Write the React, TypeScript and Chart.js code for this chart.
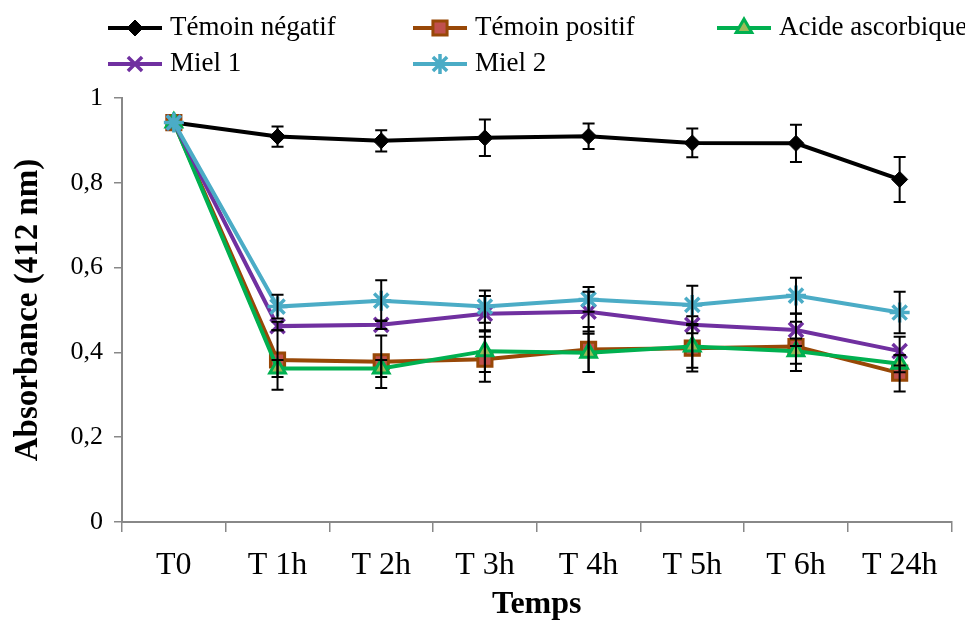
import React, { useEffect, useRef } from 'react';
import { Chart, registerables } from 'chart.js';
import { drawPoint } from 'chart.js/helpers';

Chart.register(...registerables);

const categories = ['T0', 'T 1h', 'T 2h', 'T 3h', 'T 4h', 'T 5h', 'T 6h', 'T 24h'];
const seriesNames = ['Témoin négatif', 'Témoin positif', 'Acide ascorbique', 'Miel 1', 'Miel 2'];

const temoinNegatif = [0.942, 0.909, 0.899, 0.906, 0.910, 0.894, 0.893, 0.808];
const temoinNegatifErr = [0, 0.024, 0.025, 0.043, 0.03, 0.034, 0.044, 0.053];
const temoinPositif = [0.942, 0.382, 0.378, 0.384, 0.407, 0.41, 0.414, 0.351];
const temoinPositifErr = [0, 0.07, 0.062, 0.053, 0.053, 0.055, 0.058, 0.043];
const acideAscorbique = [0.942, 0.362, 0.362, 0.403, 0.399, 0.414, 0.403, 0.373];
const acideAscorbiqueErr = [0, 0.02, 0.02, 0.049, 0.045, 0.05, 0.03, 0.02];
const miel1 = [0.942, 0.462, 0.465, 0.491, 0.496, 0.465, 0.453, 0.403];
const miel1Err = [0, 0.01, 0.01, 0.042, 0.047, 0.02, 0.038, 0.034];
const miel2 = [0.942, 0.508, 0.522, 0.508, 0.525, 0.512, 0.534, 0.494];
const miel2Err = [0, 0.028, 0.048, 0.038, 0.029, 0.045, 0.042, 0.049];

const yTicks = [0, 0.2, 0.4, 0.6, 0.8, 1];
const xTitle = 'Temps';
const yTitle = 'Absorbance (412 nm)';

const FONT = "'Liberation Serif', 'DejaVu Serif', serif";

export default function App() {
  const ref = useRef<HTMLCanvasElement>(null);

  useEffect(() => {
    const values = [temoinNegatif, temoinPositif, acideAscorbique, miel1, miel2];
    const errors = [temoinNegatifErr, temoinPositifErr, acideAscorbiqueErr, miel1Err, miel2Err];
    const styles = [
      { line: '#000000', fill: '#000000', stroke: '#000000', pointStyle: 'rectRot', radius: 8, bw: 1, order: 5 },
      { line: '#984807', fill: '#C0504D', stroke: '#984807', pointStyle: 'rect', radius: 10, bw: 3, order: 4 },
      { line: '#00B050', fill: '#9BBB59', stroke: '#00B050', pointStyle: 'triangle', radius: 9, bw: 3, order: 3 },
      { line: '#7030A0', fill: '#7030A0', stroke: '#7030A0', pointStyle: 'crossRot', radius: 10, bw: 3.5, order: 2 },
      { line: '#4BACC6', fill: '#4BACC6', stroke: '#4BACC6', pointStyle: 'star', radius: 10, bw: 3.5, order: 1 },
    ];

    const errorBars = {
      id: 'errorBars',
      afterDatasetsDraw(chart: any) {
        const ctx = chart.ctx;
        const yScale = chart.scales.y;
        ctx.save();
        ctx.strokeStyle = '#000';
        ctx.lineWidth = 2;
        values.forEach((_, i) => {
          const meta = chart.getDatasetMeta(i);
          meta.data.forEach((pt: any, j: number) => {
            const e = errors[i][j];
            if (!e) return;
            const v = values[i][j];
            const x = pt.x;
            const y1 = yScale.getPixelForValue(v + e);
            const y2 = yScale.getPixelForValue(v - e);
            ctx.beginPath();
            ctx.moveTo(x, y1);
            ctx.lineTo(x, y2);
            ctx.moveTo(x - 6, y1);
            ctx.lineTo(x + 6, y1);
            ctx.moveTo(x - 6, y2);
            ctx.lineTo(x + 6, y2);
            ctx.stroke();
          });
        });
        ctx.restore();
      },
    };

    const legendSlots = [
      { x: 108, y: 28 },
      { x: 413, y: 28 },
      { x: 717, y: 28 },
      { x: 108, y: 64 },
      { x: 413, y: 64 },
    ];

    const customLegend = {
      id: 'customLegend',
      afterDraw(chart: any) {
        const ctx = chart.ctx;
        ctx.save();
        seriesNames.forEach((name, i) => {
          const s = styles[i];
          const slot = legendSlots[i];
          ctx.strokeStyle = s.line;
          ctx.lineWidth = 4;
          ctx.beginPath();
          ctx.moveTo(slot.x, slot.y);
          ctx.lineTo(slot.x + 54, slot.y);
          ctx.stroke();
          ctx.fillStyle = s.fill;
          ctx.strokeStyle = s.stroke;
          ctx.lineWidth = s.bw;
          drawPoint(ctx, { pointStyle: s.pointStyle as any, radius: s.radius, rotation: 0, borderWidth: s.bw }, slot.x + 27, slot.y);
          ctx.fillStyle = '#000';
          ctx.font = `27px ${FONT}`;
          ctx.textBaseline = 'middle';
          ctx.textAlign = 'left';
          ctx.fillText(name, slot.x + 62, slot.y);
        });
        ctx.restore();
      },
    };

    const chart = new Chart(ref.current!, {
      type: 'line',
      data: {
        labels: categories,
        datasets: seriesNames.map((name, i) => ({
          label: name,
          data: values[i],
          borderColor: styles[i].line,
          borderWidth: 4,
          backgroundColor: styles[i].fill,
          pointStyle: styles[i].pointStyle as any,
          pointRadius: styles[i].radius,
          pointBackgroundColor: styles[i].fill,
          pointBorderColor: styles[i].stroke,
          pointBorderWidth: styles[i].bw,
          fill: false,
          tension: 0,
          order: styles[i].order,
        })),
      },
      options: {
        animation: false,
        responsive: true,
        maintainAspectRatio: false,
        layout: { padding: { top: 98, right: 12, left: 0, bottom: 0 } },
        plugins: {
          legend: { display: false },
          tooltip: { enabled: false },
        },
        scales: {
          x: {
            type: 'category',
            offset: true,
            grid: { offset: true, drawOnChartArea: false, drawTicks: true, tickLength: 10, color: '#888888', lineWidth: 1.5 },
            border: { color: '#888888', width: 2 },
            ticks: { color: '#000', font: { family: FONT, size: 32 }, padding: 14, maxRotation: 0, autoSkip: false },
            title: {
              display: true,
              text: xTitle,
              color: '#000',
              font: { family: FONT, size: 32, weight: 'bold', lineHeight: 1 },
              padding: { top: 0, bottom: 0 },
            },
            afterFit(scale: any) {
              scale.height = 99;
            },
          },
          y: {
            min: 0,
            max: 1,
            afterBuildTicks(scale: any) {
              scale.ticks = yTicks.map((v) => ({ value: v }));
            },
            grid: { drawOnChartArea: false, drawTicks: true, tickLength: 8, color: '#888888', lineWidth: 1.5 },
            border: { color: '#888888', width: 2 },
            ticks: {
              color: '#000',
              font: { family: FONT, size: 26 },
              padding: 11,
              callback: (v: any) => (v === 0 ? '0' : v === 1 ? '1' : Number(v).toFixed(1).replace('.', ',')),
            },
            title: {
              display: true,
              text: yTitle,
              color: '#000',
              font: { family: FONT, size: 33, weight: 'bold', lineHeight: 1 },
              padding: { top: 12, bottom: 0 },
            },
            afterFit(scale: any) {
              scale.width = 122;
            },
          },
        },
      },
      plugins: [errorBars, customLegend],
    });
    return () => chart.destroy();
  }, []);

  return (
    <div style={{ position: 'fixed', left: 0, top: 0, width: 965, height: 621, background: '#fff' }}>
      <canvas ref={ref} />
    </div>
  );
}
